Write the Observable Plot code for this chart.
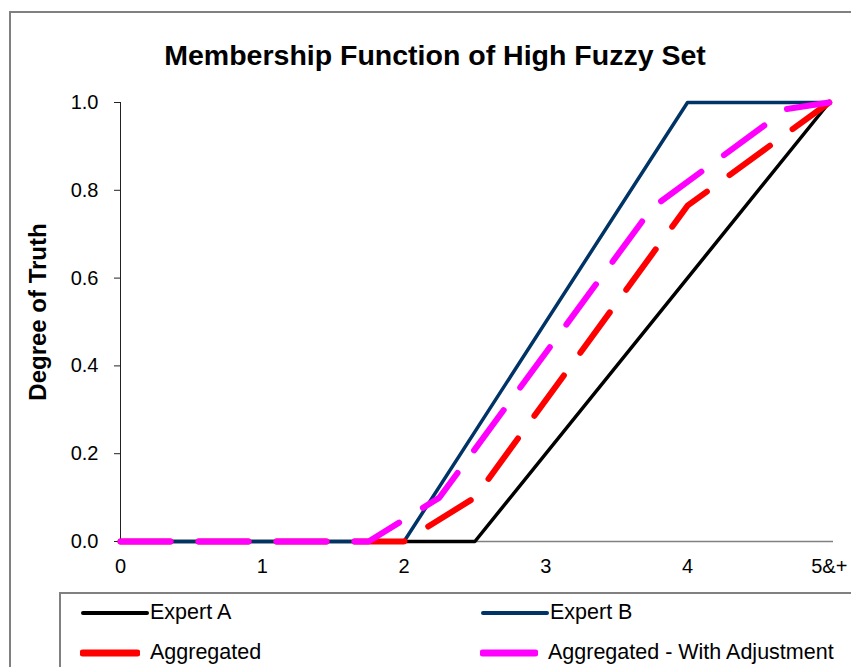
<!DOCTYPE html>
<html>
<head>
<meta charset="utf-8">
<script src="https://cdn.jsdelivr.net/npm/d3@7"></script>
<script src="https://cdn.jsdelivr.net/npm/@observablehq/plot@0.6"></script>
<style>
  html, body { margin: 0; padding: 0; background: #fff; width: 851px; height: 667px; overflow: hidden; font-family: "Liberation Sans", Arial, sans-serif; }
  #frame { position: absolute; left: 9px; top: 11px; width: 900px; height: 720px; border: 2px solid #808080; }
  #title { position: absolute; left: 0; top: 39px; width: 870px; text-align: center; font-size: 28.5px; font-weight: bold; color: #000; }
  #chart { position: absolute; left: 0; top: 0; }
  #legend { position: absolute; left: 59px; top: 592px; width: 900px; height: 120px; border: 2px solid #808080; background: #fff; }
  .item { position: absolute; display: flex; align-items: center; font-size: 21.5px; color: #000; }
  g[aria-label="y-axis tick label"] text, g[aria-label="x-axis tick label"] text { font-size: 20px; }
</style>
</head>
<body>
<div id="frame"></div>
<div id="title">Membership Function of High Fuzzy Set</div>
<div id="chart"></div>
<div id="legend"></div>
<script>
// ---- data ----
const xTicks = [0, 1, 2, 3, 4, 5];
const xTickLabels = ["0", "1", "2", "3", "4", "5&+"];
const yTicks = [0, 0.2, 0.4, 0.6, 0.8, 1.0];
const yLabel = "Degree of Truth";

const expertAX = [0, 2.5, 5];
const expertAY = [0, 0, 1];

const expertBX = [0, 2, 4, 5];
const expertBY = [0, 0, 1, 1];

const aggregatedX = [0, 2, 2.5, 4, 5];
const aggregatedY = [0, 0, 0.1, 0.765, 1];

const adjustedX = [0, 1.75, 2.25, 3.75, 4.7, 5];
const adjustedY = [0, 0, 0.1, 0.76, 0.985, 1];

const seriesNames = ["Expert A", "Expert B", "Aggregated", "Aggregated - With Adjustment"];
const seriesColors = ["#000000", "#003366", "#ff0000", "#ff00ff"];

const toPts = (xs, ys) => xs.map((x, i) => ({x, y: ys[i]}));
const series = [
  {pts: toPts(expertAX, expertAY), color: seriesColors[0], width: 3.5, dash: null},
  {pts: toPts(expertBX, expertBY), color: seriesColors[1], width: 3.5, dash: null},
  {pts: toPts(aggregatedX, aggregatedY), color: seriesColors[2], width: 6, dash: "50,28"},
  {pts: toPts(adjustedX, adjustedY), color: seriesColors[3], width: 6, dash: "50,28"}
];

const chart = Plot.plot({
  width: 851,
  height: 667,
  marginLeft: 120,
  marginRight: 18,
  marginTop: 102,
  marginBottom: 126,
  style: {fontFamily: "Liberation Sans, Arial, sans-serif", fontSize: "20px", color: "#000", background: "transparent"},
  x: {domain: [0, 5.03]},
  y: {domain: [0, 1]},
  marks: [
    Plot.ruleY([0], {stroke: "#808080", strokeWidth: 1.5}),
    Plot.ruleX([0], {y1: 0, y2: 1, stroke: "#222", strokeWidth: 1}),
    Plot.axisY({ticks: yTicks, tickFormat: d => d.toFixed(1), tickSize: 6, tickPadding: 16,
      stroke: "#222", label: null}),
    Plot.axisX({ticks: xTicks, tickFormat: (d, i) => xTickLabels[i], tickSize: 0, tickPadding: 17, label: null}),
    Plot.text([yLabel], {frameAnchor: "left", textAnchor: "middle", dx: -82, dy: -10, rotate: -90, text: d => d,
      fontWeight: "bold", fontSize: 24, fill: "#000"}),
    ...series.map(s => Plot.line(s.pts, {x: "x", y: "y", stroke: s.color, strokeWidth: s.width,
      strokeDasharray: s.dash, strokeLinecap: "round", strokeLinejoin: "round"}))
  ]
});
document.getElementById("chart").appendChild(chart);

// ---- legend ----
const legend = document.getElementById("legend");
const pos = [[19, 6], [419, 6], [19, 46], [419, 46]];
const lineLen = [64, 64, 54, 52];
seriesNames.forEach((name, i) => {
  const it = document.createElement("div");
  it.className = "item";
  it.style.left = pos[i][0] + "px";
  it.style.top = pos[i][1] + "px";
  const L = lineLen[i];
  it.innerHTML = `<svg width="${L + 6}" height="14"><line x1="3" x2="${L + 3}" y1="7" y2="7" stroke="${seriesColors[i]}" stroke-width="${i < 2 ? 4 : 7}" stroke-linecap="round"/></svg><span style="margin-left:${i < 2 ? 0 : 10}px">${name}</span>`;
  legend.appendChild(it);
});
</script>
</body>
</html>
